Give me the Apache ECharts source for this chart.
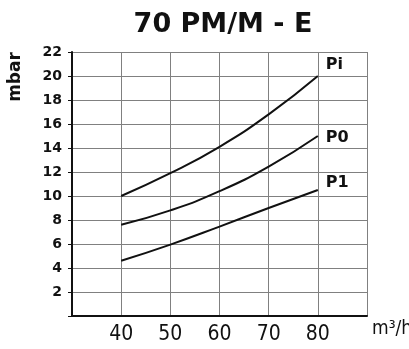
<!DOCTYPE html>
<html>
<head>
<meta charset="utf-8">
<script src="https://cdn.jsdelivr.net/npm/echarts@6/dist/echarts.min.js"></script>
<style>
  html, body { margin: 0; padding: 0; background: #fff; }
  #chart { width: 409px; height: 349px; }
</style>
</head>
<body>
<div id="chart"></div>
<script>
// Flow rate (m³/h) against pressure (mbar)
const flow = [40, 50, 60, 70, 80];
const pi = [10.0, 11.9, 14.1, 16.8, 20.0];
const p0 = [7.6, 8.8, 10.4, 12.45, 15.0];
const p1 = [4.6, 5.95, 7.45, 9.0, 10.5];
const xTickLabels = [40, 50, 60, 70, 80];
const yTickLabels = [2, 4, 6, 8, 10, 12, 14, 16, 18, 20, 22];

const chart = echarts.init(document.getElementById('chart'), null, { renderer: 'canvas' });

const pairs = arr => flow.map((x, i) => [x, arr[i]]);

function curve(name, values, offset) {
  return {
    name: name,
    type: 'line',
    data: pairs(values),
    smooth: true,
    symbol: 'none',
    lineStyle: { color: '#111', width: 2 },
    endLabel: {
      show: true,
      formatter: '{a}',
      offset: offset,
      fontFamily: 'DejaVu Sans',
      fontWeight: 'bold',
      fontSize: 16,
      color: '#111'
    }
  };
}

chart.setOption({
  animation: false,
  backgroundColor: '#fff',
  title: {
    text: '70 PM/M - E',
    left: 218,
    textAlign: 'center',
    top: 6,
    textStyle: { fontFamily: 'DejaVu Sans', fontWeight: 'bold', fontSize: 27, color: '#111' }
  },
  grid: { left: 72, right: 42, top: 52, bottom: 33, outerBoundsMode: 'none', containLabel: false },
  xAxis: {
    type: 'value',
    min: 30,
    max: 90,
    interval: 10,
    name: 'm³/h',
    nameLocation: 'end',
    nameGap: 5,
    nameTextStyle: {
      fontFamily: 'Liberation Sans Narrow, DejaVu Sans Condensed',
      fontSize: 19,
      color: '#111',
      verticalAlign: 'top',
      padding: [4, 0, 0, 0]
    },
    axisLine: { show: true, lineStyle: { color: '#111', width: 2 } },
    axisTick: { show: false },
    axisLabel: {
      margin: 8,
      fontFamily: 'Liberation Sans Narrow, DejaVu Sans Condensed',
      fontSize: 21,
      color: '#111',
      formatter: v => (xTickLabels.includes(v) ? String(v) : '')
    },
    splitLine: { show: true, lineStyle: { color: '#808080', width: 1 } }
  },
  yAxis: {
    type: 'value',
    min: 0,
    max: 22,
    interval: 2,
    axisLine: { show: true, lineStyle: { color: '#111', width: 2 } },
    axisTick: { show: true, length: 4, lineStyle: { color: '#111' } },
    axisLabel: {
      margin: 10,
      fontFamily: 'DejaVu Sans',
      fontWeight: 'bold',
      fontSize: 14,
      color: '#111',
      formatter: v => (yTickLabels.includes(v) ? String(v) : '')
    },
    splitLine: { show: true, lineStyle: { color: '#808080', width: 1 } }
  },
  graphic: [{
    type: 'text',
    x: 16,
    y: 77,
    rotation: Math.PI / 2,
    style: {
      text: 'mbar',
      fontFamily: 'DejaVu Sans',
      fontWeight: 'bold',
      fontSize: 17,
      fill: '#111',
      align: 'center',
      verticalAlign: 'middle'
    }
  }],
  series: [
    curve('Pi', pi, [0, -11]),
    curve('P0', p0, [0, 2]),
    curve('P1', p1, [0, -7])
  ]
});
</script>
</body>
</html>
